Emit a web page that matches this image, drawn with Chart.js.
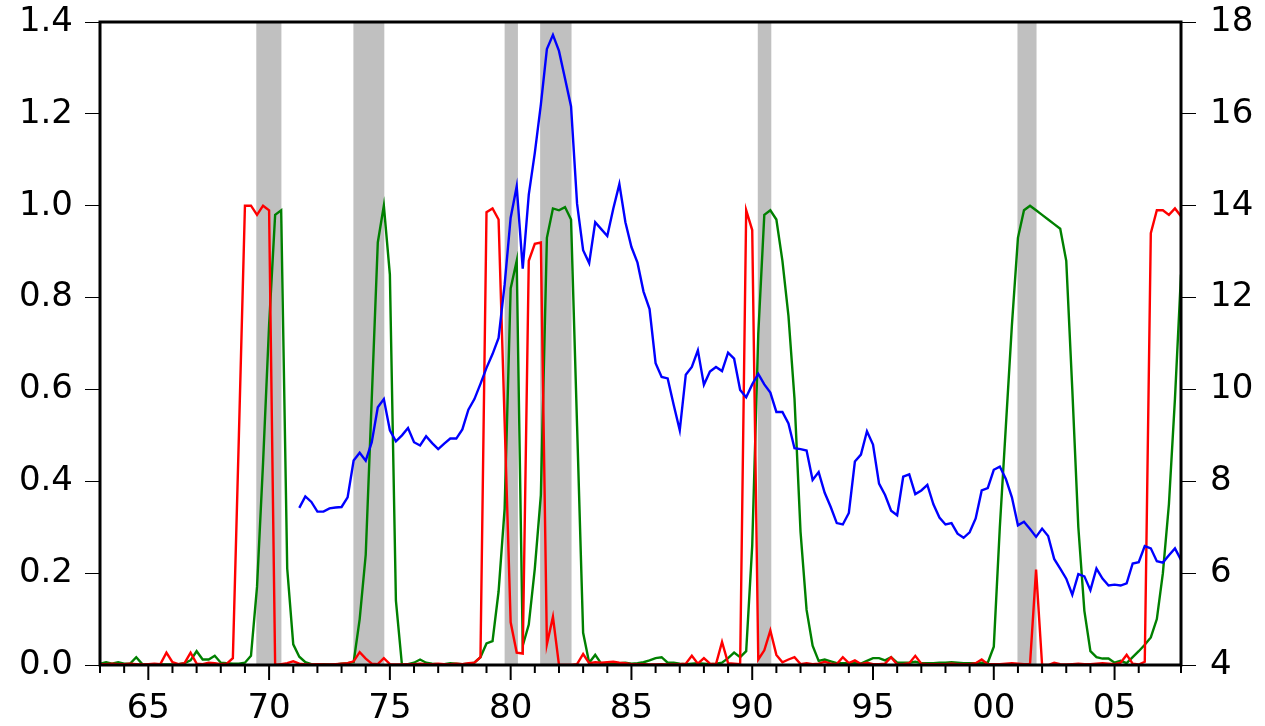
<!DOCTYPE html>
<html>
<head>
<meta charset="utf-8">
<script src="https://cdn.jsdelivr.net/npm/chart.js@4.4.1/dist/chart.umd.min.js"></script>
<style>
  html, body { margin: 0; padding: 0; background: #fff; }
  #wrap { width: 1265px; height: 726px; }
</style>
</head>
<body>
<div id="wrap"><canvas id="chart"></canvas></div>
<script>
// quarterly data, first observation 1963Q1
const firstYear = 1963;

// red series (left axis)
const redProb = [
  0.002, 0.002, 0.003, 0.002, 0.002, 0.003, 0.002, 0.001, 0.002, 0.003,
  0.002, 0.027, 0.006, 0.002, 0.004, 0.027, 0.003, 0.002, 0.005, 0.004,
  0.002, 0.003, 0.015, 0.5, 1.0, 1.0, 0.98, 1.0, 0.99, 0.0,
  0.002, 0.004, 0.008, 0.003, 0.001, 0.001, 0.002, 0.001, 0.001, 0.002,
  0.003, 0.004, 0.008, 0.028, 0.014, 0.003, 0.002, 0.015, 0.002, 0.001,
  0.001, 0.002, 0.002, 0.003, 0.002, 0.002, 0.003, 0.002, 0.002, 0.003,
  0.002, 0.004, 0.005, 0.017, 0.986, 0.994, 0.97, 0.53, 0.093, 0.027,
  0.025, 0.88, 0.917, 0.92, 0.045, 0.105, 0.0, 0.0, 0.0, 0.002,
  0.024, 0.004, 0.006, 0.005, 0.006, 0.007, 0.005, 0.004, 0.002, 0.002,
  0.002, 0.001, 0.001, 0.002, 0.001, 0.001, 0.002, 0.003, 0.02, 0.003,
  0.015, 0.003, 0.002, 0.05, 0.004, 0.003, 0.002, 0.99, 0.947, 0.012,
  0.032, 0.075, 0.022, 0.006, 0.012, 0.017, 0.002, 0.004, 0.002, 0.003,
  0.007, 0.003, 0.002, 0.017, 0.004, 0.01, 0.002, 0.005, 0.002, 0.002,
  0.003, 0.017, 0.001, 0.002, 0.004, 0.02, 0.003, 0.002, 0.002, 0.002,
  0.002, 0.003, 0.002, 0.002, 0.002, 0.004, 0.012, 0.002, 0.002, 0.002,
  0.003, 0.004, 0.003, 0.002, 0.002, 0.208, 0.0, 0.0, 0.005, 0.002,
  0.001, 0.002, 0.003, 0.002, 0.002, 0.003, 0.004, 0.003, 0.002, 0.005,
  0.022, 0.003, 0.001, 0.007, 0.94, 0.99, 0.99, 0.98, 0.994, 0.977
];

// green series (left axis)
const greenProb = [
  0.003, 0.006, 0.003, 0.006, 0.003, 0.003, 0.017, 0.002, 0.001, 0.001,
  0.001, 0.001, 0.001, 0.002, 0.004, 0.01, 0.03, 0.012, 0.012, 0.02,
  0.005, 0.004, 0.003, 0.003, 0.005, 0.02, 0.17, 0.44, 0.74, 0.98,
  0.99, 0.21, 0.045, 0.018, 0.006, 0.002, 0.001, 0.002, 0.001, 0.001,
  0.003, 0.004, 0.006, 0.1, 0.24, 0.58, 0.92, 1.0, 0.85, 0.14,
  0.0, 0.002, 0.005, 0.012, 0.005, 0.003, 0.002, 0.002, 0.004, 0.003,
  0.002, 0.003, 0.005, 0.017, 0.047, 0.052, 0.16, 0.34, 0.82, 0.88,
  0.042, 0.088, 0.21, 0.37, 0.93, 0.994, 0.99, 0.997, 0.97, 0.52,
  0.07, 0.005, 0.022, 0.003, 0.003, 0.004, 0.004, 0.005, 0.003, 0.004,
  0.006, 0.01, 0.015, 0.017, 0.005, 0.005, 0.003, 0.002, 0.003, 0.004,
  0.003, 0.002, 0.003, 0.005, 0.015, 0.027, 0.017, 0.03, 0.26, 0.72,
  0.98, 0.99, 0.97, 0.88, 0.76, 0.58, 0.29, 0.12, 0.042, 0.009,
  0.012, 0.008, 0.004, 0.004, 0.004, 0.005, 0.003, 0.009, 0.015, 0.015,
  0.01, 0.017, 0.005, 0.005, 0.005, 0.007, 0.004, 0.004, 0.004, 0.005,
  0.005, 0.006, 0.005, 0.004, 0.004, 0.004, 0.005, 0.005, 0.04, 0.3,
  0.52, 0.74, 0.93, 0.99, 1.0, 0.99, 0.98, 0.97, 0.96, 0.95,
  0.88, 0.6, 0.3, 0.118, 0.03, 0.017, 0.014, 0.014, 0.005, 0.009,
  0.004, 0.017, 0.03, 0.044, 0.06, 0.1, 0.2, 0.35, 0.58, 0.85
];

// blue series (right axis), starts 1971Q2
const blueStart = 1971.25;
const blueRate = [
  7.42, 7.67, 7.55, 7.34, 7.34, 7.41, 7.43, 7.44, 7.65, 8.45,
  8.62, 8.45, 8.85, 9.61, 9.79, 9.11, 8.87, 9.0, 9.16, 8.85,
  8.78, 8.98, 8.83, 8.70, 8.82, 8.93, 8.93, 9.13, 9.56, 9.79,
  10.12, 10.47, 10.77, 11.12, 12.28, 13.74, 14.42, 12.63, 14.24, 15.15,
  16.2, 17.41, 17.72, 17.37, 16.77, 16.16, 14.04, 13.03, 12.75, 13.64,
  13.49, 13.34, 13.94, 14.47, 13.64, 13.1, 12.76, 12.13, 11.75, 10.57,
  10.27, 10.24, 9.66, 9.11, 10.32, 10.49, 10.85, 10.1, 10.39, 10.49,
  10.4, 10.8, 10.67, 9.99, 9.83, 10.11, 10.34, 10.11, 9.93, 9.51,
  9.51, 9.26, 8.72, 8.70, 8.67, 8.03, 8.2, 7.75, 7.44, 7.09,
  7.06, 7.31, 8.43, 8.58, 9.09, 8.8, 7.95, 7.7, 7.36, 7.26,
  8.1, 8.15, 7.72, 7.8, 7.92, 7.5, 7.21, 7.06, 7.09, 6.86,
  6.77, 6.89, 7.19, 7.8, 7.85, 8.25, 8.32, 8.05, 7.65, 7.04,
  7.12, 6.96, 6.79, 6.97, 6.81, 6.31, 6.1, 5.88, 5.53, 5.98,
  5.93, 5.63, 6.1, 5.88, 5.73, 5.75, 5.73, 5.78, 6.21, 6.24,
  6.59, 6.54, 6.26, 6.23, 6.39, 6.54, 6.29
];

// shaded periods (decimal years)
const recStart = [1969.47, 1973.49, 1979.75, 1981.22, 1990.23, 2000.98];
const recEnd   = [1970.51, 1974.77, 1980.30, 1982.52, 1990.79, 2001.77];

const toPoints = (arr, start) => arr.map((v, i) => ({ x: start + i / 4, y: v }));

const tickFont = { family: 'DejaVu Sans', size: 34 };

// gray bars, frame and x-axis tick marks
const decorations = {
  id: 'decorations',
  beforeDatasetsDraw(chart) {
    const { ctx, chartArea: a, scales: { x } } = chart;
    ctx.save();
    ctx.fillStyle = '#c0c0c0';
    recStart.forEach((s, i) => {
      const x0 = x.getPixelForValue(s), x1 = x.getPixelForValue(recEnd[i]);
      ctx.fillRect(x0, a.top, x1 - x0, a.bottom - a.top);
    });
    ctx.restore();
  },
  afterDraw(chart) {
    const { ctx, chartArea: a, scales: { x } } = chart;
    ctx.save();
    ctx.strokeStyle = '#000';
    ctx.lineWidth = 2;
    x.ticks.forEach(t => {
      const px = x.getPixelForValue(t.value);
      const len = t.value % 5 === 0 ? 15 : 8;
      ctx.beginPath();
      ctx.moveTo(px, a.bottom);
      ctx.lineTo(px, a.bottom + len);
      ctx.stroke();
    });
    ctx.lineWidth = 3;
    ctx.strokeRect(a.left, a.top, a.right - a.left, a.bottom - a.top);
    ctx.restore();
  }
};

const fitY = w => s => {
  s.width = w;
  s.paddingTop = 0;
  s.paddingBottom = 0;
};

const config = {
  type: 'line',
  data: {
    datasets: [
      { data: toPoints(blueRate, blueStart), borderColor: '#0000ff', yAxisID: 'y1' },
      { data: toPoints(redProb, firstYear), borderColor: '#ff0000', yAxisID: 'y' },
      { data: toPoints(greenProb, firstYear), borderColor: '#008000', yAxisID: 'y' }
    ]
  },
  options: {
    animation: false,
    responsive: true,
    maintainAspectRatio: false,
    parsing: false,
    layout: { padding: { top: 22, left: 0, right: 0, bottom: 0 } },
    elements: {
      line: { borderWidth: 2.4, tension: 0 },
      point: { radius: 0 }
    },
    plugins: {
      legend: { display: false },
      tooltip: { enabled: false }
    },
    scales: {
      x: {
        type: 'linear',
        min: 1963,
        max: 2007.75,
        afterFit: s => { s.height = 61; s.paddingLeft = 0; s.paddingRight = 0; },
        grid: { display: false, drawTicks: false },
        border: { display: false },
        ticks: {
          stepSize: 1,
          autoSkip: false,
          maxRotation: 0,
          padding: 24,
          color: '#000',
          font: tickFont,
          callback: v => (v % 5 === 0 ? String(v % 100).padStart(2, '0') : '')
        }
      },
      y: {
        position: 'left',
        min: 0,
        max: 1.4,
        afterFit: fitY(100),
        grid: { drawOnChartArea: false, tickLength: 15, tickColor: '#000', tickWidth: 1 },
        border: { display: false },
        ticks: { stepSize: 0.2, padding: 12, color: '#000', font: tickFont, callback: v => v.toFixed(1) }
      },
      y1: {
        position: 'right',
        min: 4,
        max: 18,
        afterFit: fitY(84),
        grid: { drawOnChartArea: false, tickLength: 15, tickColor: '#000', tickWidth: 1 },
        border: { display: false },
        ticks: { stepSize: 2, padding: 14, color: '#000', font: tickFont }
      }
    }
  },
  plugins: [decorations]
};

new Chart(document.getElementById('chart'), config);
</script>
</body>
</html>
